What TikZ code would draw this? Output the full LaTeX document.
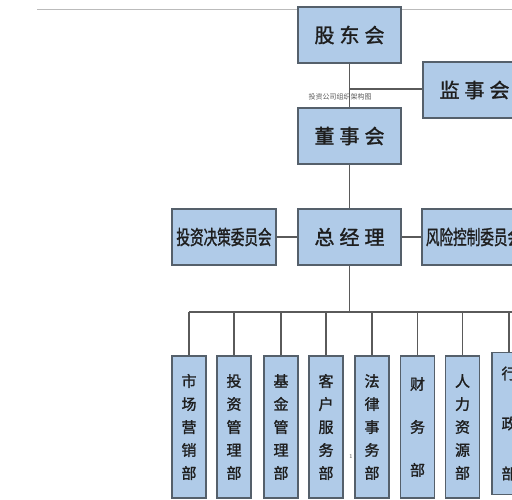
\documentclass[tikz,border=0pt]{standalone}
\usepackage{fontspec}
\usepackage{graphicx}
\newfontfamily\cjk[FakeBold=1.4]{Noto Sans CJK SC}
\newfontfamily\cjkthin{Noto Sans CJK SC}
\definecolor{boxfill}{HTML}{B0CBE8}
\definecolor{boxline}{HTML}{55606B}
\definecolor{lineclr}{HTML}{5A5A5A}
\definecolor{txt}{HTML}{1E1E1E}
\definecolor{topclr}{HTML}{BBBBBB}
\begin{document}
\begin{tikzpicture}[x=1pt,y=-1pt,
  box/.style={draw=boxline, fill=boxfill, line width=1.6pt, inner sep=0pt, text=txt},
  big/.style={box, minimum width=103pt, minimum height=56pt, font=\cjk\fontsize{20}{24}\selectfont},
  dept/.style={box, minimum width=34pt, minimum height=142pt, align=center, font=\cjk\fontsize{15}{23}\selectfont},
  conn/.style={draw=lineclr, line width=1.6pt},
  topline/.style={draw=topclr, line width=1pt}]
\useasboundingbox (0,0) rectangle (512,500);
\coordinate (tl) at (37,10);
\coordinate (tr) at (512,10);
\draw[topline] (tl) -- (tr);
% top level
\node[big] (gd) at (349.5,35) {股\hspace{5pt}东\hspace{5pt}会};
\node[big] (js) at (474.5,90) {监\hspace{5pt}事\hspace{5pt}会};
\node[big] (ds) at (349.5,136) {董\hspace{5pt}事\hspace{5pt}会};
\node[big] (zjl) at (349.5,237) {总\hspace{5pt}经\hspace{5pt}理};
\node[big, minimum width=104pt] (tz) at (224,237) {\scalebox{0.68}[1]{投资决策委员会}};
\node[big] (fx) at (473.5,237) {\scalebox{0.68}[1]{风险控制委员会}};
\coordinate (j1) at (349.5,89);
\draw[conn] (gd.south) -- (ds.north);
\draw[conn] (j1) -- (j1 -| js.west);
\draw[conn] (ds.south) -- (zjl.north);
\draw[conn] (tz.east) -- (zjl.west);
\draw[conn] (zjl.east) -- (fx.west);
\node[font=\cjkthin\fontsize{7}{8}\selectfont, text=black!65] (title) at (340,97) {投资公司组织架构图};
% departments
\node[dept] (d1) at (189,427) {市\\场\\营\\销\\部};
\node[dept] (d2) at (234,427) {投\\资\\管\\理\\部};
\node[dept] (d3) at (281,427) {基\\金\\管\\理\\部};
\node[dept] (d4) at (326,427) {客\\户\\服\\务\\部};
\node[dept] (d5) at (372,427) {法\\律\\事\\务\\部};
\node[dept, font=\cjk\fontsize{15}{43}\selectfont] (d6) at (417.5,427) {财\\务\\部};
\node[dept] (d7) at (462.5,427) {人\\力\\资\\源\\部};
\node[dept, font=\cjk\fontsize{15}{50}\selectfont] (d8) at (509,423.5) {行\\政\\部};
\coordinate (bus) at (349.5,312);
\coordinate (busr) at (520,312);
\draw[conn] (zjl.south) -- (bus);
\draw[conn] (d1.north |- bus) -- (busr);
\foreach \d in {d1,d2,d3,d4,d5,d6,d7,d8}
  \draw[conn] (\d.north) -- (\d.north |- bus);
\node[font=\fontsize{6}{7}\selectfont, text=black!70] (pg) at (351,457) {1};
\end{tikzpicture}
\end{document}
